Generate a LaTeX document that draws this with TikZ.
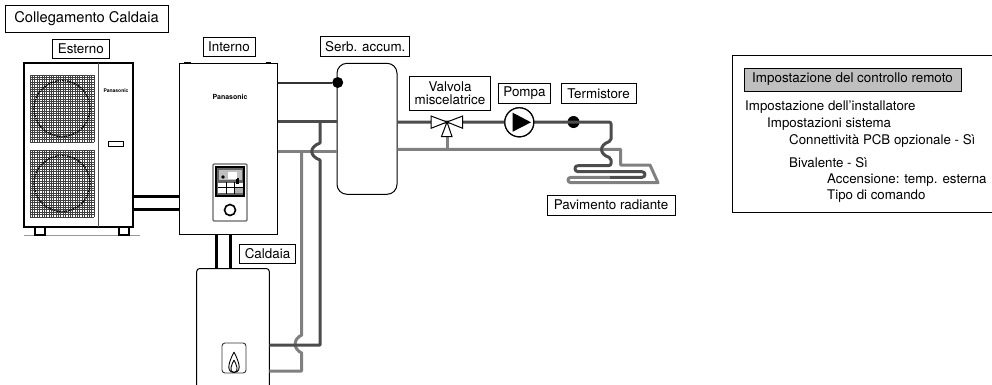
\documentclass[tikz,border=0pt]{standalone}
\usepackage{fontspec}
\setmainfont{TeX Gyre Heros}
\tikzset{
  tag/.style={draw, line width=0.9pt, inner sep=0pt, font=\fontsize{13.4}{15}\selectfont, align=center},
  unit/.style={draw, line width=1pt, fill=white, inner sep=0pt},
  brand/.style={font=\bfseries, inner sep=0pt},
  pipedark/.style={line width=3pt, draw=black!70, line join=round},
  pipelight/.style={line width=3pt, draw=black!50, line join=round},
  pipeblack/.style={line width=3pt, draw=black},
  dot/.style={circle, fill=black, inner sep=0pt, minimum size=#1},
  panelline/.style={anchor=west, inner sep=0pt, font=\fontsize{13.3}{15}\selectfont},
}
\begin{document}
\begin{tikzpicture}[x=1pt, y=-1pt]
  \useasboundingbox (0,0) rectangle (992,384);

  % Outdoor unit
  \draw[line width=1.2pt, black!40] (24,235.5) -- (140,235.5);
  \draw[line width=1.6pt] (35,227) -- (35,235) -- (45,235) -- (45,227);
  \draw[line width=1.6pt] (119,227) -- (119,235) -- (129,235) -- (129,227);
  \node[unit, line width=1.4pt, minimum width=109pt, minimum height=164pt] (esterno) at (78.5,145) {};
  \draw[line width=0.7pt, black!70] (98.7,63) -- (98.7,227);
  \foreach \gy in {75,150} {
    \foreach \i in {0,...,27}
      \draw[line width=0.65pt, black!75] (30+\i*2.37,\gy) -- (30+\i*2.37,\gy+67);
    \foreach \i in {0,...,28}
      \draw[line width=0.65pt, black!75] (30,\gy+\i*2.39) -- (94,\gy+\i*2.39);
    \draw[line width=1.4pt, densely dotted, black] (62,\gy+33.5) circle (28);
  }
  \node[draw, line width=0.9pt, minimum width=15pt, minimum height=5pt, inner sep=0pt] (slot) at (115.5,144) {};
  \node[brand, font=\fontsize{5}{6}\bfseries] (brandout) at (116,91) {Panasonic};

  % Indoor unit
  \draw[line width=1.5pt] (184,62.5) -- (191,62.5);
  \draw[line width=1.5pt] (266,62.5) -- (271,62.5);
  \node[unit, minimum width=98pt, minimum height=171pt] (interno) at (228.5,148.5) {};
  \node[brand, font=\fontsize{7}{8}\bfseries] (brandin) at (230,97) {Panasonic};
  \node[draw=black!60, line width=1.2pt, rounded corners=1pt, minimum width=34pt, minimum height=57pt, inner sep=0pt] (remote) at (230,192.5) {};
  \node[draw, line width=1.6pt, fill=black!60, minimum width=28pt, minimum height=29pt, inner sep=0pt] (screen) at (230,181.5) {};
  \fill[black!25] (219,170) rectangle (242,180);
  \fill[white] (218,183) rectangle (243,193);
  \fill[black!30] (235,187) rectangle (243,193);
  \fill[black] (223,177) circle (1.8);
  \fill[black] (236,178) rectangle (239,184);
  \draw[line width=0.6pt, black] (218,187.5) -- (243,187.5) (226,182) -- (226,194) (234,182) -- (234,194);
  \fill[white] (228,172) rectangle (237,179);
  \node[circle, draw, line width=1.6pt, minimum size=11pt, inner sep=0pt] (knob) at (230,210) {};

  % Buffer tank
  \node[unit, rounded corners=10pt, minimum width=60pt, minimum height=131pt] (serbatoio) at (367,128.8) {};

  % Boiler, runs off the bottom edge
  \coordinate (caldaiaSW) at (196.7,386);
  \coordinate (caldaiaSE) at (269.3,386);
  \coordinate (caldaiaN) at (233,268.5);
  \draw[line width=1pt, rounded corners=3pt] (caldaiaSW) -- (caldaiaSW |- caldaiaN) -- (caldaiaSE |- caldaiaN) -- (caldaiaSE);
  \node[draw=black!80, line width=0.9pt, rounded corners=3pt, minimum width=24pt, minimum height=30pt, inner sep=0pt] (flamebox) at (234,358) {};
  \draw[line width=0.9pt] (234,352) .. controls (231,358) and (224,372) .. (234,372.5) .. controls (244,372) and (237,358) .. (234,352);
  \draw[line width=0.9pt] (234,360) .. controls (232,364) and (228,372) .. (234,372.5) .. controls (240,372) and (236,364) .. (234,360);

  % Outdoor and boiler links
  \draw[pipeblack] (esterno.east |- 0,196.5) -- (interno.west |- 0,196.5);
  \draw[pipeblack] (esterno.east |- 0,209) -- (interno.west |- 0,209);
  \draw[pipeblack] (216.7,234) -- (216.7,268.5);
  \draw[pipeblack] (230.7,234) -- (230.7,268.5);

  % Tank connections
  \node[dot=11pt] (sensor) at (337.7,82.5) {};
  \draw[line width=2pt, black!80] (interno.east |- sensor) -- (sensor);
  \draw[pipelight] (interno.east |- 0,151) -- (serbatoio.west |- 0,151);
  \draw[pipelight] (301.7,151) -- (301.7,335) .. controls (293,339) and (293,349) .. (301.7,353) -- (301.7,371) -- (caldaiaSE |- 0,371);
  \draw[pipedark] (interno.east |- 0,121) -- (serbatoio.west |- 0,121);
  \draw[pipedark] (320,121) -- (320,143) .. controls (309,147) and (309,156) .. (320,160) -- (320,345) -- (caldaiaSE |- 0,345);

  % Floor loop
  \node[inner sep=0pt, minimum size=0pt] (valve) at (447,122) {};
  \node[circle, draw, fill=white, line width=1.2pt, minimum size=29pt, inner sep=0pt] (pump) at (519.3,122.3) {};
  \node[dot=12pt] (thermistor) at (573.5,122) {};
  \draw[pipelight] (serbatoio.east |- 0,149.3) -- (620.7,149.3) -- (620.7,165) -- (650,165) -- (658,182.7) -- (571,182.7) .. controls (567,182.7) and (567,177.3) .. (571,177.3) -- (610,177.3);
  \draw[pipelight] (valve |- 0,136) -- (valve |- 0,149.3);
  \draw[pipedark, rounded corners=2pt] (serbatoio.east |- 0,122) -- (611,122) -- (611,141) .. controls (599,145) and (599,154) .. (611,158) -- (611,165.5) -- (578,165.5);
  \draw[pipedark] (578,165.5) .. controls (574,165.5) and (574,171.7) .. (578,171.7) -- (642,171.7) .. controls (646,171.7) and (646,177.3) .. (642,177.3) -- (610,177.3);
  \draw[draw=black, fill=white, line width=1pt] (valve.center) -- (431,116) -- (431,128.3) -- cycle;
  \draw[draw=black, fill=white, line width=1pt] (valve.center) -- (462.7,116) -- (462.7,128.3) -- cycle;
  \draw[draw=black, fill=white, line width=1pt] (valve.center) -- (441.5,136.5) -- (452,136.5) -- cycle;
  \node[circle, draw, fill=white, line width=1.2pt, minimum size=29pt, inner sep=0pt] at (pump) {};
  \fill[black] (512.7,112.7) -- (531,122.3) -- (512.7,131.7) -- cycle;

  % Labels
  \node[tag, font=\fontsize{14.7}{16}\selectfont, minimum width=163pt, minimum height=27pt] (tagtitle) at (86.5,18.5) {Collegamento Caldaia};
  \node[tag, minimum width=56.5pt, minimum height=19pt] (tagesterno) at (80.8,48.5) {Esterno};
  \node[tag, minimum width=52pt, minimum height=19pt] (taginterno) at (229,46.5) {Interno};
  \node[tag, minimum width=89pt, minimum height=20pt] (tagserb) at (365.3,46.7) {Serb. accum.};
  \node[tag, minimum width=81.5pt, minimum height=34pt] (tagvalve) at (450,93) {Valvola\\[-1.5pt]miscelatrice};
  \node[tag, minimum width=51.5pt, minimum height=19.5pt] (tagpump) at (524.5,93.3) {Pompa};
  \node[tag, minimum width=75pt, minimum height=19.5pt] (tagtherm) at (598.5,93.3) {Termistore};
  \node[tag, minimum width=128pt, minimum height=20pt] (tagfloor) at (611,205) {Pavimento radiante};
  \node[tag, minimum width=56pt, minimum height=19.5pt] (tagboiler) at (267.5,253.7) {Caldaia};

  % Settings panel, its right edge falls outside the page
  \node[draw, line width=1pt, minimum width=264pt, minimum height=157pt, inner sep=0pt] (panel) at (864,133.5) {};
  \node[tag, fill=black!25, minimum width=217pt, minimum height=23pt] (panelhead) at (852.5,79.5) {Impostazione del controllo remoto};
  \node[panelline] (line1) at (745,107) {Impostazione dell’installatore};
  \node[panelline] (line2) at (767,124) {Impostazioni sistema};
  \node[panelline] (line3) at (789,140.7) {Connettività PCB opzionale - Sì};
  \node[panelline] (line4) at (789,163) {Bivalente - Sì};
  \node[panelline] (line5) at (827,180) {Accensione: temp. esterna};
  \node[panelline] (line6) at (827,195.7) {Tipo di comando};
\end{tikzpicture}
\end{document}
